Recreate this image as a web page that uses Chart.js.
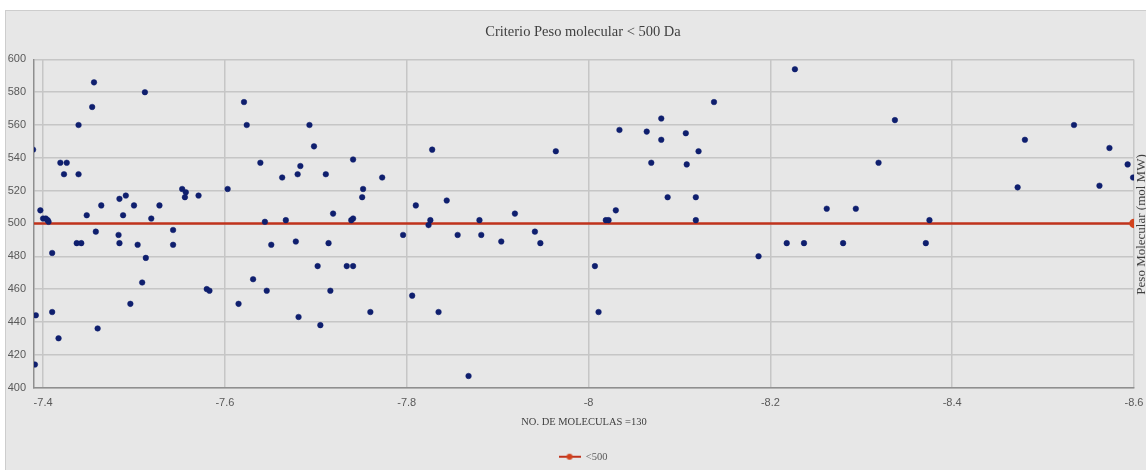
<!DOCTYPE html>
<html>
<head>
<meta charset="utf-8">
<title>Criterio Peso molecular &lt; 500 Da</title>
<script src="https://cdn.jsdelivr.net/npm/chart.js@4.4.0/dist/chart.umd.min.js"></script>
<style>
  html, body { margin: 0; padding: 0; background: #ffffff; overflow: hidden; }
  #frame { position: absolute; left: 5px; top: 10px; width: 1160px; height: 480px; background: #e7e7e7; border: 1px solid #cdcdcd; }
  #chartBox { position: absolute; left: 6px; top: 11px; width: 1154px; height: 461px; }
</style>
</head>
<body>
<div id="frame"></div>
<div id="chartBox"><canvas id="myChart"></canvas></div>
<script>
"use strict";

// docking score (x) and molecular weight (y) of each molecule
let dockingScores = [
  -7.389, -7.397, -7.400, -7.403, -7.405, -7.406, -7.392, -7.391, -7.410, -7.410,
  -7.417, -7.419, -7.426, -7.423, -7.439, -7.439, -7.437, -7.442, -7.448, -7.454,
  -7.456, -7.458, -7.460, -7.464, -7.483, -7.484, -7.484, -7.488, -7.491, -7.496,
  -7.500, -7.504, -7.509, -7.512, -7.513, -7.519, -7.528, -7.543, -7.543, -7.553,
  -7.557, -7.556, -7.571, -7.580, -7.583, -7.603, -7.621, -7.624, -7.615, -7.631,
  -7.639, -7.644, -7.646, -7.651, -7.663, -7.667, -7.678, -7.680, -7.683, -7.681,
  -7.693, -7.698, -7.702, -7.705, -7.711, -7.714, -7.716, -7.719, -7.734, -7.741,
  -7.741, -7.739, -7.741, -7.751, -7.752, -7.760, -7.773, -7.796, -7.806, -7.810,
  -7.828, -7.826, -7.824, -7.835, -7.844, -7.856, -7.868, -7.880, -7.882, -7.904,
  -7.919, -7.941, -7.947, -7.964, -8.007, -8.011, -8.019, -8.022, -8.030, -8.034,
  -8.064, -8.069, -8.080, -8.080, -8.087, -8.107, -8.108, -8.121, -8.118, -8.118,
  -8.138, -8.187, -8.218, -8.227, -8.237, -8.262, -8.280, -8.294, -8.319, -8.337,
  -8.371, -8.375, -8.472, -8.480, -8.534, -8.562, -8.573, -8.593, -8.599
];
let molWeights = [
  545, 508, 503, 503, 502, 501, 444, 414, 482, 446,
  430, 537, 537, 530, 560, 530, 488, 488, 505, 571,
  586, 495, 436, 511, 493, 488, 515, 505, 517, 451,
  511, 487, 464, 580, 479, 503, 511, 496, 487, 521,
  519, 516, 517, 460, 459, 521, 574, 560, 451, 466,
  537, 501, 459, 487, 528, 502, 489, 530, 535, 443,
  560, 547, 474, 438, 530, 488, 459, 506, 474, 474,
  539, 502, 503, 516, 521, 446, 528, 493, 456, 511,
  545, 502, 499, 446, 514, 493, 407, 502, 493, 489,
  506, 495, 488, 544, 474, 446, 502, 502, 508, 557,
  556, 537, 564, 551, 516, 555, 536, 544, 516, 502,
  574, 480, 488, 594, 488, 509, 488, 509, 537, 563,
  488, 502, 522, 551, 560, 523, 546, 536, 528
];

// threshold line "<500"
let limitX = [-7.39, -8.6];
let limitY = [500, 500];

let xTicks = [-7.4, -7.6, -7.8, -8, -8.2, -8.4, -8.6];
let yTicks = [400, 420, 440, 460, 480, 500, 520, 540, 560, 580, 600];

let chartTitle = "Criterio Peso molecular < 500 Da";
let xTitle = "NO. DE MOLECULAS =130";
let yTitle = "Peso Molecular (mol MW)";
let limitLabel = "<500";

let pointsData = [];
for (let i = 0; i < dockingScores.length; i++) {
  pointsData.push({ x: dockingScores[i], y: molWeights[i] });
}
let limitData = [];
for (let i = 0; i < limitX.length; i++) {
  limitData.push({ x: limitX[i], y: limitY[i] });
}

let serif = "'Liberation Serif', 'Times New Roman', serif";
let narrow = "'Liberation Sans Narrow', 'Liberation Sans', sans-serif";

// little "line + dot" picture for the legend
let legendIcon = document.createElement("canvas");
legendIcon.width = 22;
legendIcon.height = 8;
let ic = legendIcon.getContext("2d");
ic.strokeStyle = "#c0331c";
ic.lineWidth = 2;
ic.beginPath();
ic.moveTo(0, 4);
ic.lineTo(22, 4);
ic.stroke();
ic.fillStyle = "#d2421c";
ic.beginPath();
ic.arc(11, 4, 3, 0, Math.PI * 2);
ic.fill();

let rightTitle = {
  id: "rightTitle",
  afterDraw(chart) {
    let ctx = chart.ctx;
    let area = chart.chartArea;
    ctx.save();
    ctx.translate(area.right + 7.5, (area.top + area.bottom) / 2 + 1);
    ctx.rotate(-Math.PI / 2);
    ctx.font = "13px " + serif;
    ctx.fillStyle = "#404040";
    ctx.textAlign = "center";
    ctx.textBaseline = "middle";
    ctx.fillText(yTitle, 0, 0);
    ctx.restore();
  }
};

let ctx = document.getElementById("myChart").getContext("2d");
let myChart = new Chart(ctx, {
  type: "scatter",
  data: {
    datasets: [
      {
        label: "molecules",
        data: pointsData,
        backgroundColor: "#0f1f6e",
        borderColor: "#0f1f6e",
        pointRadius: 2.8,
        pointBorderWidth: 0.5,
      },
      {
        label: limitLabel,
        data: limitData,
        showLine: true,
        borderColor: "#c0331c",
        borderWidth: 2.5,
        backgroundColor: "#d2421c",
        pointBackgroundColor: "#d2421c",
        pointBorderColor: "#d2421c",
        pointRadius: [0, 3.5],
      },
    ],
  },
  options: {
    responsive: true,
    maintainAspectRatio: false,
    animation: false,
    layout: {
      padding: { top: 8, left: 0, right: 0, bottom: 0 },
    },
    plugins: {
      title: {
        display: true,
        text: chartTitle,
        color: "#404040",
        font: { family: serif, size: 14.5, weight: "normal" },
        padding: { top: 4, bottom: 19 },
      },
      legend: {
        display: true,
        position: "bottom",
        labels: {
          color: "#595959",
          font: { family: serif, size: 10.5 },
          padding: 4,
          usePointStyle: true,
          pointStyleWidth: 22,
          filter: function (item) {
            return item.datasetIndex === 1;
          },
          generateLabels: function (chart) {
            let items = Chart.defaults.plugins.legend.labels.generateLabels(chart);
            items.forEach(function (item) {
              item.pointStyle = legendIcon;
            });
            return items;
          },
        },
      },
      tooltip: { enabled: false },
    },
    scales: {
      x: {
        type: "linear",
        reverse: true,
        min: -8.6,
        max: -7.39,
        afterBuildTicks: function (scale) {
          scale.ticks = xTicks.map(function (v) {
            return { value: v };
          });
        },
        afterFit: function (scale) {
          scale.height = 60;
        },
        ticks: {
          color: "#595959",
          font: { family: narrow, size: 11 },
          padding: 9,
          maxRotation: 0,
          autoSkip: false,
          callback: function (value) {
            return String(value);
          },
        },
        grid: { color: "#c6c6c6", lineWidth: 1.5, drawTicks: false },
        border: { color: "#8f8f8f", width: 1.5 },
        title: {
          display: true,
          text: xTitle,
          color: "#404040",
          font: { family: serif, size: 10.5 },
          padding: { top: 4, bottom: 19 },
        },
      },
      y: {
        type: "linear",
        min: 400,
        max: 600,
        afterBuildTicks: function (scale) {
          scale.ticks = yTicks.map(function (v) {
            return { value: v };
          });
        },
        afterFit: function (scale) {
          scale.width = 28;
        },
        ticks: {
          color: "#595959",
          font: { family: narrow, size: 11 },
          padding: 8,
        },
        grid: { color: "#c6c6c6", lineWidth: 1.5, drawTicks: false },
        border: { color: "#8f8f8f", width: 1.5 },
      },
      y2: {
        type: "linear",
        position: "right",
        afterFit: function (scale) {
          scale.width = 26;
        },
        ticks: { display: false },
        grid: { display: false, drawTicks: false },
        border: { display: false },
      },
    },
  },
  plugins: [rightTitle],
});
</script>
</body>
</html>
